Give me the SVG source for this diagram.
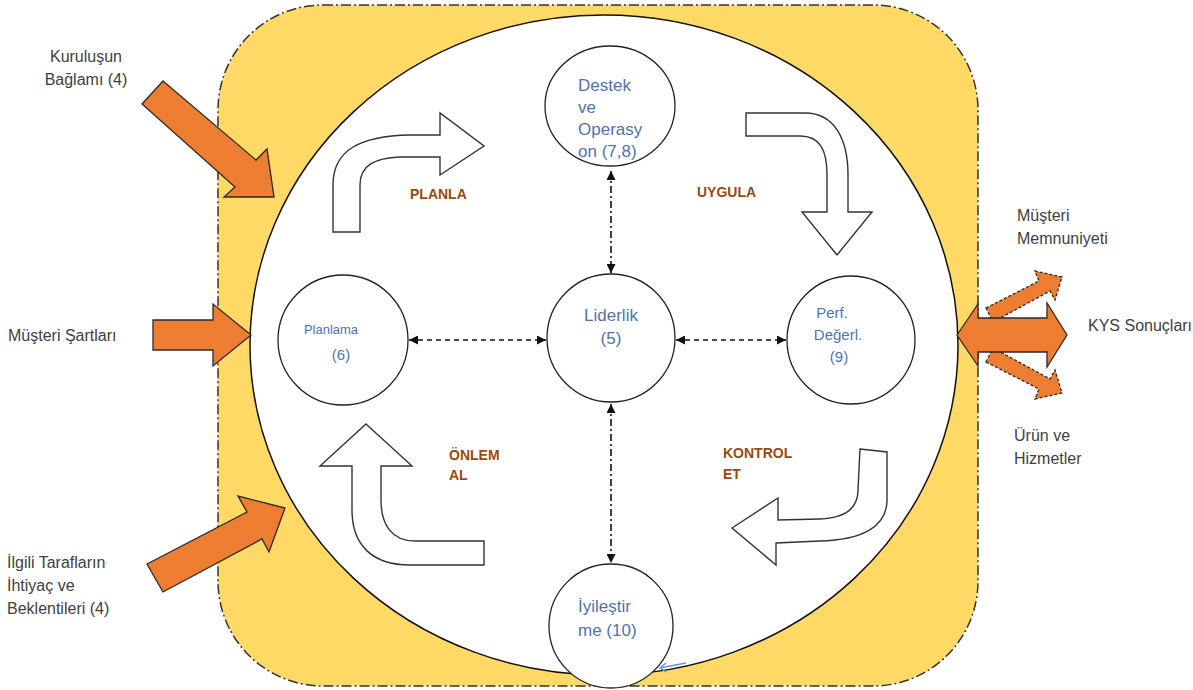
<svg xmlns="http://www.w3.org/2000/svg" width="1193" height="690" viewBox="0 0 1193 690">
<style>
.lbl{font-family:"Liberation Sans",Arial,sans-serif;font-size:16px;fill:#404040}
.ct{font-family:"Liberation Sans",Arial,sans-serif;font-size:17px;fill:#4F73AE}
.ph{font-family:"Liberation Sans",Arial,sans-serif;font-size:14px;font-weight:bold;fill:#9A4A0B}
.node{fill:#fff;stroke:#222;stroke-width:1.3}
.oarr{fill:#ED7D31;stroke:#2a2a2a;stroke-width:1.3;stroke-linejoin:miter}
.warr{fill:#fff;stroke:#333;stroke-width:1.4;stroke-linejoin:miter}
.dash{stroke:#111;stroke-width:1.6;fill:none;stroke-dasharray:5 4}
.dashdot{stroke:#111;stroke-width:1.6;fill:none;stroke-dasharray:7 3 2 3}
</style>
<defs>
<marker id="ah" viewBox="0 0 10 10" refX="10" refY="5" markerWidth="9" markerHeight="9" markerUnits="userSpaceOnUse" orient="auto-start-reverse">
<path d="M0,0 L10,5 L0,10 z" fill="#111"/>
</marker>
</defs>
<g id="background">
<rect x="218" y="5" width="760" height="681" rx="105" ry="105" fill="#FFD966" stroke="#333" stroke-width="1.5" stroke-dasharray="10 3 2 3"/>
<ellipse cx="604" cy="345" rx="354" ry="330" fill="#fff" stroke="#111" stroke-width="1.5"/>
</g>
<g id="inputs">
<polygon class="oarr" points="163,81 256,160 267,149 274,197 224,197 235,187 142,104"/>
<polygon class="oarr" points="153,320 213,320 213,304 251,335 213,366 213,350 153,350"/>
<polygon class="oarr" points="147,564 247,512 238,496 285,508 269,552 262,539 163,592"/>
</g>
<g id="outputs">
<polygon class="oarr" stroke-dasharray="3 2" points="986,308 1039,281 1035,271 1062,277 1055,300 1050,291 993,322"/>
<polygon class="oarr" stroke-dasharray="3 2" points="986,362 1039,389 1035,399 1062,393 1055,370 1050,379 993,348"/>
<polygon class="oarr" points="957,335 978,304 978,318 1047,318 1047,303 1067,335 1047,367 1047,352 978,352 978,366"/>
</g>
<g id="cycle-arrows">
<path class="warr" d="M333,232 V185 C333,150 360,136 410,135 H440 V113 L484,146 L440,175 V157 H400 C375,158 360,165 360,185 V232 Z"/>
<path class="warr" d="M746,113 H805 C835,113 848,140 848,175 V212 H872 L837,255 L802,212 H827 V175 C827,150 820,136 800,136 H746 Z"/>
<path class="warr" d="M366,424 L412,466 H381 V500 C381,525 392,541 415,541 H484 V565 H410 C372,565 352,545 352,510 V466 H320 Z"/>
<path class="warr" d="M860,449 L887,452 V500 C887,528 860,540 820,541 L776,543 V565 L732,528 L778,498 V520 L820,519 C845,518 858,508 858,490 Z"/>
</g>
<g id="phase-labels">
<text class="ph" x="410" y="199">PLANLA</text>
<text class="ph" x="697" y="197">UYGULA</text>
<text class="ph" x="449" y="460">ÖNLEM</text>
<text class="ph" x="449" y="480">AL</text>
<text class="ph" x="723" y="458">KONTROL</text>
<text class="ph" x="723" y="479">ET</text>
</g>
<g id="connectors">
<line class="dashdot" x1="611" y1="171" x2="611" y2="273" marker-start="url(#ah)" marker-end="url(#ah)"/>
<line class="dashdot" x1="611" y1="404" x2="611" y2="563" marker-start="url(#ah)" marker-end="url(#ah)"/>
<line class="dash" x1="409" y1="340" x2="546" y2="340" marker-start="url(#ah)" marker-end="url(#ah)"/>
<line class="dash" x1="676" y1="340" x2="786" y2="340" marker-start="url(#ah)" marker-end="url(#ah)"/>
<path d="M686,663 L660,668 M666,663 L660,668 L666,672" fill="none" stroke="#5B9BD5" stroke-width="1.3"/>
</g>
<g id="node-destek">
<ellipse class="node" cx="610" cy="106" rx="65" ry="60"/>
<text class="ct" x="578" y="91">Destek</text>
<text class="ct" x="578" y="113">ve</text>
<text class="ct" x="578" y="135">Operasy</text>
<text class="ct" x="578" y="157">on (7,8)</text>
</g>
<g id="node-liderlik">
<circle class="node" cx="611" cy="338" r="64"/>
<text class="ct" x="611" y="321" text-anchor="middle">Liderlik</text>
<text class="ct" x="611" y="344" text-anchor="middle">(5)</text>
</g>
<g id="node-planlama">
<circle class="node" cx="343" cy="340" r="65"/>
<text class="ct" x="331" y="334" text-anchor="middle" style="font-size:13px">Planlama</text>
<text class="ct" x="341" y="360" text-anchor="middle" style="font-size:15px">(6)</text>
</g>
<g id="node-perf">
<circle class="node" cx="851" cy="340" r="64"/>
<text class="ct" x="832" y="318" text-anchor="middle" style="font-size:15px">Perf.</text>
<text class="ct" x="838" y="340" text-anchor="middle" style="font-size:15px">Değerl.</text>
<text class="ct" x="839" y="362" text-anchor="middle" style="font-size:15px">(9)</text>
</g>
<g id="node-iyilestirme">
<circle class="node" cx="611" cy="626" r="62"/>
<text class="ct" x="578" y="612">İyileştir</text>
<text class="ct" x="578" y="636">me (10)</text>
</g>
<g id="outer-labels">
<text class="lbl" x="86" y="62" text-anchor="middle">Kuruluşun</text>
<text class="lbl" x="86" y="85" text-anchor="middle">Bağlamı (4)</text>
<text class="lbl" x="8" y="341">Müşteri Şartları</text>
<text class="lbl" x="7" y="568">İlgili Tarafların</text>
<text class="lbl" x="7" y="591">İhtiyaç ve</text>
<text class="lbl" x="7" y="614">Beklentileri (4)</text>
<text class="lbl" x="1017" y="221">Müşteri</text>
<text class="lbl" x="1017" y="244">Memnuniyeti</text>
<text class="lbl" x="1088" y="331">KYS Sonuçları</text>
<text class="lbl" x="1014" y="441">Ürün ve</text>
<text class="lbl" x="1014" y="464">Hizmetler</text>
</g>
</svg>
